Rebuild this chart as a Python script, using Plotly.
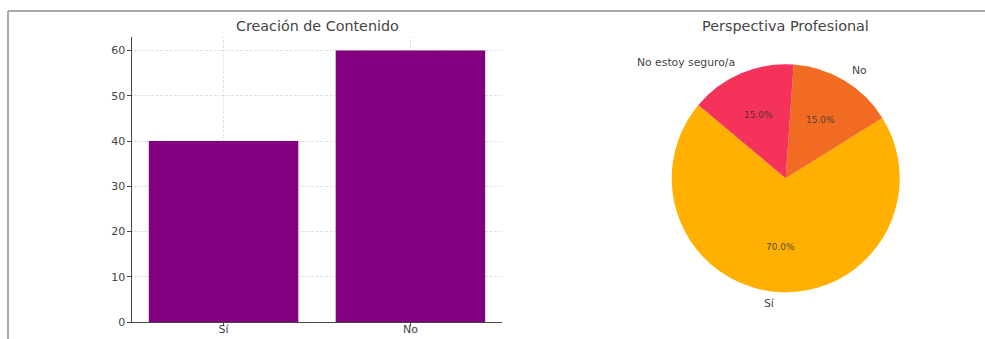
import math
import plotly.graph_objects as go

# ---- data ----
bar_categories = ["Sí", "No"]
bar_values = [40, 60]
bar_title = "Creación de Contenido"
y_ticks = [0, 10, 20, 30, 40, 50, 60]

pie_labels = ["Sí", "No", "No estoy seguro/a"]
pie_values = [70, 15, 15]
pie_colors = ["#FFB000", "#F26B22", "#F5325A"]
pie_title = "Perspectiva Profesional"

# ---- layout geometry (pixels) ----
W, H = 985, 339
FONT = "DejaVu Sans"
TXT = "#444444"


def px(x):
    return x / W


def py(y):
    return (H - y) / H


bar_l, bar_r, bar_t, bar_b = 132, 502, 37, 322
pie_cx, pie_cy, pie_r = 785.7, 178.3, 114
start_angle = 140  # degrees, counterclockwise from east (matplotlib style)

total = sum(pie_values)
first_span = 360 * pie_values[0] / total
# plotly (counterclockwise) ends the first slice at the rotation angle
rotation = 90 - (start_angle + first_span)

fig = go.Figure()

fig.add_trace(go.Bar(
    x=bar_categories, y=bar_values, width=0.8,
    marker=dict(color="#800080", line=dict(width=0)),
    xaxis="x", yaxis="y", showlegend=False, hoverinfo="x+y",
))

fig.add_trace(go.Pie(
    labels=pie_labels, values=pie_values, sort=False,
    direction="counterclockwise", rotation=rotation,
    marker=dict(colors=pie_colors, line=dict(width=0)),
    textinfo="none", showlegend=False,
    domain=dict(x=[px(pie_cx - pie_r), px(pie_cx + pie_r)],
                y=[py(pie_cy + pie_r), py(pie_cy - pie_r)]),
))

annotations = []
# titles
annotations.append(dict(text=bar_title, x=px((bar_l + bar_r) / 2), y=py(26),
                        xref="paper", yref="paper", showarrow=False,
                        font=dict(family=FONT, size=14.3, color=TXT),
                        xanchor="center", yanchor="middle"))
annotations.append(dict(text=pie_title, x=px(pie_cx), y=py(26),
                        xref="paper", yref="paper", showarrow=False,
                        font=dict(family=FONT, size=14.4, color=TXT),
                        xanchor="center", yanchor="middle"))

# pie labels and percentages, computed from the data
ang = start_angle
for lab, val in zip(pie_labels, pie_values):
    span = 360 * val / total
    mid = math.radians(ang + span / 2)
    ang += span
    cx, sy = math.cos(mid), math.sin(mid)
    lx = pie_cx + 1.1 * pie_r * cx
    ly = pie_cy - 1.1 * pie_r * sy
    annotations.append(dict(text=lab, x=px(lx), y=py(ly), xref="paper", yref="paper",
                            showarrow=False, font=dict(family=FONT, size=10.8, color=TXT),
                            xanchor="left" if cx > 0 else "right", yanchor="middle"))
    tx = pie_cx + 0.6 * pie_r * cx
    ty = pie_cy - 0.6 * pie_r * sy
    annotations.append(dict(text=f"{100 * val / total:.1f}%", x=px(tx), y=py(ty),
                            xref="paper", yref="paper", showarrow=False,
                            font=dict(family=FONT, size=9, color="rgba(50,50,50,0.85)"),
                            xanchor="center", yanchor="middle"))

shapes = [
    dict(type="line", xref="paper", yref="paper", x0=px(8), x1=1, y0=py(11), y1=py(11),
         line=dict(color="#AAAAAA", width=2)),
    dict(type="line", xref="paper", yref="paper", x0=px(8), x1=px(8), y0=py(11), y1=0,
         line=dict(color="#AAAAAA", width=2)),
]

grid_col = "rgba(180,180,180,0.65)"
axis_common = dict(
    showgrid=True, gridcolor=grid_col, griddash="1px,1.5px", gridwidth=1,
    showline=True, linecolor="#444444", linewidth=1.2,
    ticks="outside", tickcolor="#444444",
    tickfont=dict(family=FONT, size=11, color=TXT),
    layer="above traces", zeroline=False, fixedrange=True, automargin=False,
)
fig.update_layout(
    width=W, height=H,
    margin=dict(l=0, r=0, t=0, b=0, autoexpand=False),
    paper_bgcolor="white", plot_bgcolor="white",
    font=dict(family=FONT, size=11, color=TXT),
    xaxis=dict(domain=[px(bar_l), px(bar_r)], range=[-0.49, 1.49], anchor="y",
               ticklen=2.5, ticklabelstandoff=-6, **axis_common),
    yaxis=dict(domain=[py(bar_b), py(bar_t)], range=[0, 63], anchor="x",
               ticklen=3.5, tickvals=y_ticks, **axis_common),
    annotations=annotations,
    shapes=shapes,
)

fig.write_html("out.html")
